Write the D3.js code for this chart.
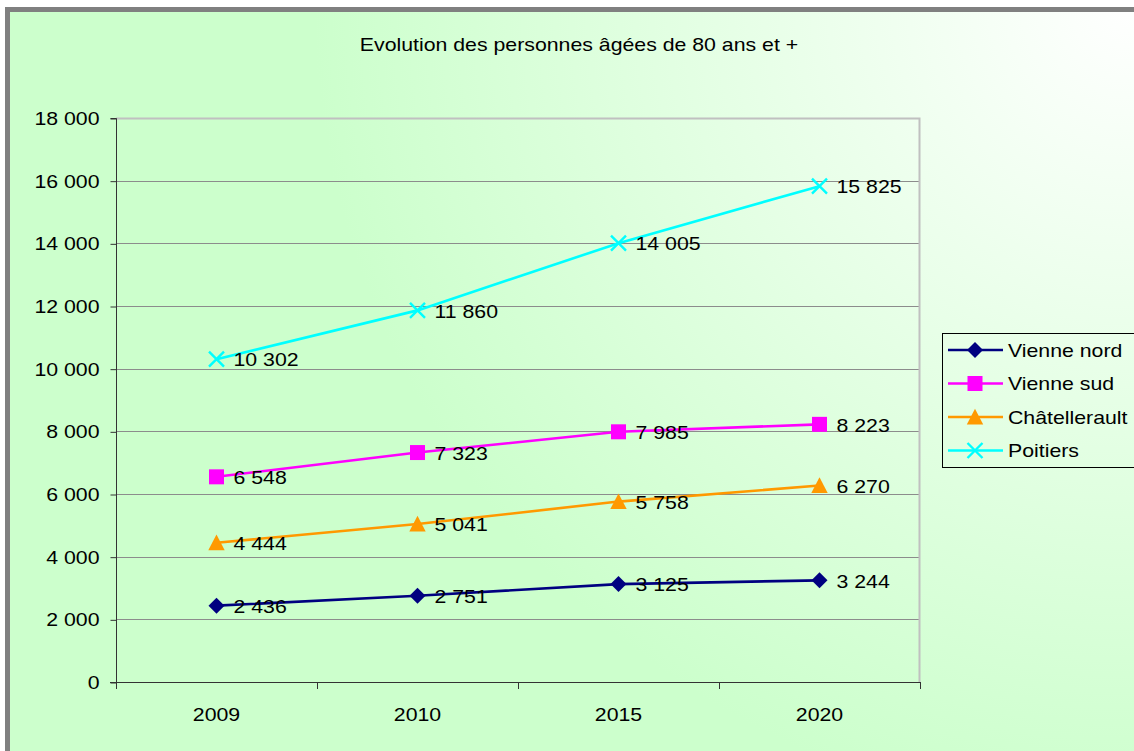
<!DOCTYPE html>
<html>
<head>
<meta charset="utf-8">
<script src="https://cdn.jsdelivr.net/npm/d3@7"></script>
<style>
  body { margin: 0; background: #fff; }
  text { font-family: "Liberation Sans", Arial, sans-serif; fill: #000; font-size: 19px; }
</style>
</head>
<body>
<div id="chart"></div>
<script>

var years = ["2009", "2010", "2015", "2020"];
var seriesNames = ["Vienne nord", "Vienne sud", "Châtellerault", "Poitiers"];
var vienneNord = [2436, 2751, 3125, 3244];
var vienneSud = [6548, 7323, 7985, 8223];
var chatellerault = [4444, 5041, 5758, 6270];
var poitiers = [10302, 11860, 14005, 15825];
var yTicks = [0, 2000, 4000, 6000, 8000, 10000, 12000, 14000, 16000, 18000];
var title = "Evolution des personnes âgées de 80 ans et +";

var colours = ["#000080", "#ff00ff", "#ff9900", "#00ffff"];
var shapes = ["diamond", "square", "triangle", "cross"];

var width = 1134;
var height = 751;

var margin = {
    top: 118,
    bottom: 69,
    left: 116,
    right: 214
};

// the original picture is a bit wider than tall, text is stretched sideways
var textStretch = 1.12;

// french style thousands: "18 000"
var fr = d3.formatLocale({ decimal: ",", thousands: " ", grouping: [3], currency: ["", " €"] });
var nformat = fr.format(",d");

var series = [vienneNord, vienneSud, chatellerault, poitiers].map(function(vals, i) {
    return {
        name: seriesNames[i],
        colour: colours[i],
        shape: shapes[i],
        values: vals.map(function(v, j) { return { year: years[j], value: v }; })
    };
});

function stretch(sel) {
    sel.each(function() {
        var w = this.getComputedTextLength();
        this.setAttribute("textLength", w * textStretch);
        this.setAttribute("lengthAdjust", "spacingAndGlyphs");
    });
}

var svg = d3.select("#chart")
    .append("svg")
    .attr("width", width)
    .attr("height", height);

var defs = svg.append("defs");
var grad = defs.append("radialGradient")
    .attr("id", "bg")
    .attr("gradientUnits", "userSpaceOnUse")
    .attr("cx", 1134)
    .attr("cy", 0)
    .attr("r", 820);
grad.append("stop").attr("offset", "0%").attr("stop-color", "#ffffff");
grad.append("stop").attr("offset", "100%").attr("stop-color", "#ccffcc");

// chart frame, runs off the right and bottom of the window
svg.append("rect")
    .attr("x", 7.5)
    .attr("y", 9.5)
    .attr("width", 1200)
    .attr("height", 800)
    .attr("fill", "url(#bg)")
    .attr("stroke", "#808080")
    .attr("stroke-width", 5);

svg.append("text")
    .attr("x", 579)
    .attr("y", 51)
    .attr("text-anchor", "middle")
    .text(title)
    .call(stretch);

var x = d3.scaleBand()
    .domain(years)
    .range([margin.left, width - margin.right]);

var y = d3.scaleLinear()
    .domain([0, 18000])
    .range([height - margin.bottom, margin.top]);

var plotRight = width - margin.right;
var plotBottom = height - margin.bottom;

// gridlines
svg.append("g")
    .selectAll("line")
    .data(yTicks.filter(function(t) { return t > 0; }))
    .enter()
    .append("line")
    .attr("x1", margin.left)
    .attr("x2", plotRight)
    .attr("y1", function(d) { return Math.round(y(d)) + 0.5; })
    .attr("y2", function(d) { return Math.round(y(d)) + 0.5; })
    .attr("stroke", "#8c8c8c")
    .attr("stroke-width", 1);

// light border top / right of plot area
svg.append("path")
    .attr("d", "M" + margin.left + "," + (margin.top + 0.5) + "H" + (plotRight - 0.5) + "V" + plotBottom)
    .attr("fill", "none")
    .attr("stroke", "#c0c0c0")
    .attr("stroke-width", 2);

// y axis
var yAxis = d3.axisLeft(y)
    .tickValues(yTicks)
    .tickSize(6)
    .tickPadding(11)
    .tickFormat(nformat);

var yg = svg.append("g")
    .attr("transform", "translate(" + (margin.left + 0.5) + ",0.5)")
    .call(yAxis);
yg.attr("font-size", null).attr("font-family", null);
yg.selectAll("text").call(stretch);
yg.selectAll("line, path").attr("stroke", "#333");
yg.select(".domain").attr("d", "M-6," + (margin.top) + "H0V" + plotBottom + "H-6");

// x axis: ticks sit between categories
var xg = svg.append("g").attr("class", "xaxis");
xg.append("line")
    .attr("x1", margin.left - 6)
    .attr("x2", plotRight)
    .attr("y1", plotBottom + 0.5)
    .attr("y2", plotBottom + 0.5)
    .attr("stroke", "#333");

var bounds = years.map(function(d) { return x(d); }).concat([plotRight]);
xg.selectAll("line.tick")
    .data(bounds)
    .enter()
    .append("line")
    .attr("class", "tick")
    .attr("x1", function(d) { return Math.round(d) + 0.5; })
    .attr("x2", function(d) { return Math.round(d) + 0.5; })
    .attr("y1", plotBottom)
    .attr("y2", plotBottom + 7)
    .attr("stroke", "#333");

xg.selectAll("text")
    .data(years)
    .enter()
    .append("text")
    .attr("x", function(d) { return x(d) + x.bandwidth() / 2; })
    .attr("y", plotBottom + 39)
    .attr("text-anchor", "middle")
    .text(function(d) { return d; })
    .call(stretch);

// marker symbol paths, centered on 0,0
function marker(shape, s) {
    if (shape === "diamond") return "M0," + (-s) + "L" + s + ",0L0," + s + "L" + (-s) + ",0Z";
    if (shape === "square") return "M" + (-s) + "," + (-s) + "H" + s + "V" + s + "H" + (-s) + "Z";
    if (shape === "triangle") return "M0," + (-s) + "L" + s + "," + (s * 0.9) + "L" + (-s) + "," + (s * 0.9) + "Z";
    return "M" + (-s) + "," + (-s) + "L" + s + "," + s + "M" + s + "," + (-s) + "L" + (-s) + "," + s;
}
var markerSize = { diamond: 8, square: 7.5, triangle: 8.2, cross: 7.5 };

function drawMarker(g, d) {
    var p = g.append("path").attr("d", marker(d.shape, markerSize[d.shape]));
    if (d.shape === "cross") {
        p.attr("fill", "none").attr("stroke", d.colour).attr("stroke-width", 2.4);
    } else {
        p.attr("fill", d.colour);
    }
}

var line = d3.line()
    .x(function(d) { return x(d.year) + x.bandwidth() / 2; })
    .y(function(d) { return y(d.value); });

var sg = svg.append("g")
    .selectAll("g.series")
    .data(series)
    .enter()
    .append("g")
    .attr("class", "series");

sg.append("path")
    .attr("d", function(d) { return line(d.values); })
    .attr("fill", "none")
    .attr("stroke", function(d) { return d.colour; })
    .attr("stroke-width", 2.6);

sg.each(function(s) {
    var g = d3.select(this);
    s.values.forEach(function(v) {
        var m = g.append("g")
            .attr("transform", "translate(" + (x(v.year) + x.bandwidth() / 2) + "," + y(v.value) + ")");
        drawMarker(m, s);
    });
});

// data labels
sg.each(function(s) {
    d3.select(this).selectAll("text")
        .data(s.values)
        .enter()
        .append("text")
        .attr("x", function(d) { return x(d.year) + x.bandwidth() / 2 + 17; })
        .attr("y", function(d) { return y(d.value); })
        .attr("dy", "0.38em")
        .text(function(d) { return nformat(d.value); })
        .call(stretch);
});

// legend
var lg = svg.append("g").attr("transform", "translate(942,333)");
lg.append("rect")
    .attr("x", 0.5)
    .attr("y", 0.5)
    .attr("width", 200)
    .attr("height", 134)
    .attr("fill", "none")
    .attr("stroke", "#000")
    .attr("stroke-width", 1);

var item = lg.selectAll("g.item")
    .data(series)
    .enter()
    .append("g")
    .attr("class", "item")
    .attr("transform", function(d, i) { return "translate(0," + (17 + i * 33.5) + ")"; });

item.append("line")
    .attr("x1", 6)
    .attr("x2", 61)
    .attr("stroke", function(d) { return d.colour; })
    .attr("stroke-width", 2.6);

item.each(function(d) {
    var m = d3.select(this).append("g").attr("transform", "translate(33,0)");
    drawMarker(m, d);
});

item.append("text")
    .attr("x", 66)
    .attr("dy", "0.36em")
    .text(function(d) { return d.name; })
    .call(stretch);

</script>
</body>
</html>
